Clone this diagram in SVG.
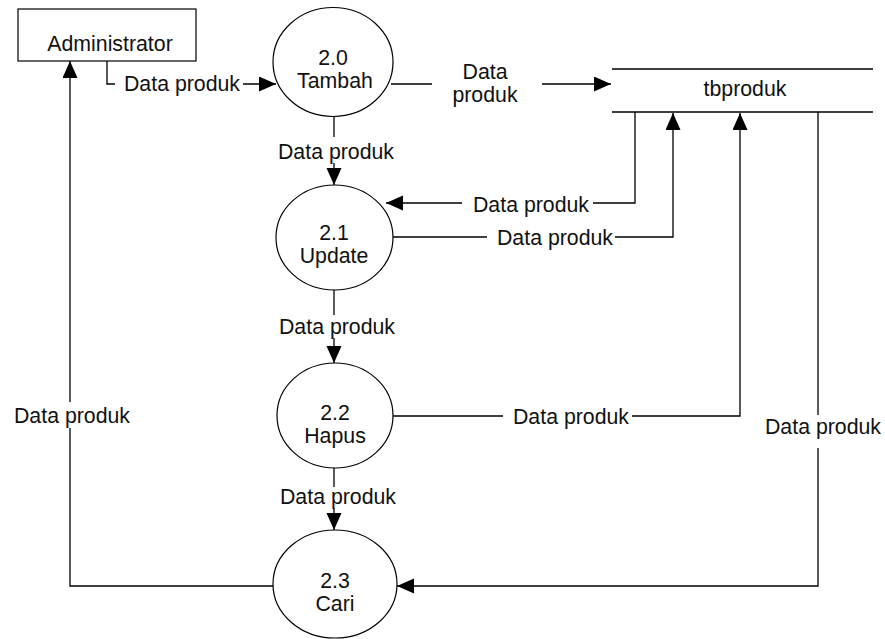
<svg xmlns="http://www.w3.org/2000/svg" width="885" height="639" viewBox="0 0 885 639">
  <defs>
    <marker id="arrow" markerUnits="userSpaceOnUse" markerWidth="18" markerHeight="16" refX="17" refY="7.5" orient="auto">
      <path d="M0,0 L17,7.5 L0,15 z" fill="#000"/>
    </marker>
  </defs>
  <style>
    .shape { fill: #fff; stroke: #000; stroke-width: 1.2; }
    .flow { fill: none; stroke: #000; stroke-width: 1.3; }
    .arr { marker-end: url(#arrow); }
    text { font-family: "Liberation Sans", Arial, sans-serif; font-size: 21.3px; fill: #111; text-anchor: middle; }
  </style>
  <rect width="885" height="639" fill="#fff"/>

  <!-- flows between entities, processes and the data store -->
  <g id="connectors">
    <!-- Administrator -> 2.0 -->
    <path class="flow" d="M107,61 V84 H115"/>
    <path class="flow arr" d="M243,84 H276"/>
    <text x="182" y="91">Data produk</text>

    <!-- 2.0 -> tbproduk -->
    <path class="flow" d="M391,84 H432"/>
    <path class="flow arr" d="M542,84 H611"/>
    <text x="485" y="79">Data</text>
    <text x="485" y="102">produk</text>

    <!-- 2.0 -> 2.1 -->
    <path class="flow" d="M334,117 V137"/>
    <path class="flow arr" d="M334,163 V185"/>
    <text x="336" y="159">Data produk</text>

    <!-- tbproduk -> 2.1 -->
    <path class="flow" d="M635,112 V203 H593"/>
    <path class="flow arr" d="M462,203 H386"/>
    <text x="531" y="212">Data produk</text>

    <!-- 2.1 -> tbproduk -->
    <path class="flow" d="M393,237 H487"/>
    <path class="flow arr" d="M615,237 H673 V113"/>
    <text x="555" y="245">Data produk</text>

    <!-- 2.1 -> 2.2 -->
    <path class="flow" d="M334,290 V315"/>
    <path class="flow arr" d="M334,338 V363"/>
    <text x="337" y="334">Data produk</text>

    <!-- 2.2 -> tbproduk -->
    <path class="flow" d="M393,416 H503"/>
    <path class="flow arr" d="M632,416 H740 V113"/>
    <text x="571" y="424">Data produk</text>

    <!-- 2.2 -> 2.3 -->
    <path class="flow" d="M334,468 V487"/>
    <path class="flow arr" d="M334,508 V530"/>
    <text x="338" y="504">Data produk</text>

    <!-- tbproduk -> 2.3 -->
    <path class="flow" d="M818,112 V415"/>
    <path class="flow arr" d="M818,448 V586 H397"/>
    <text x="823" y="434">Data produk</text>

    <!-- 2.3 -> Administrator -->
    <path class="flow" d="M273,586 H70 V428"/>
    <path class="flow arr" d="M70,402 V61"/>
    <text x="72" y="423">Data produk</text>
  </g>

  <g id="administrator">
    <rect class="shape" x="18" y="9" width="178" height="52"/>
    <text x="110" y="51">Administrator</text>
  </g>

  <g id="p2-0">
    <ellipse class="shape" cx="333" cy="62" rx="60" ry="54.5"/>
    <text x="333" y="65">2.0</text>
    <text x="335" y="88">Tambah</text>
  </g>

  <g id="p2-1">
    <ellipse class="shape" cx="334.5" cy="237.5" rx="58.5" ry="52.5"/>
    <text x="334" y="240">2.1</text>
    <text x="334" y="263">Update</text>
  </g>

  <g id="p2-2">
    <ellipse class="shape" cx="335" cy="415.5" rx="58" ry="52.5"/>
    <text x="335" y="420">2.2</text>
    <text x="335" y="443">Hapus</text>
  </g>

  <g id="p2-3">
    <ellipse class="shape" cx="335" cy="584" rx="62" ry="54"/>
    <text x="335" y="588">2.3</text>
    <text x="335" y="611">Cari</text>
  </g>

  <g id="tbproduk">
    <path class="flow" d="M612,69 H873 M612,112 H873"/>
    <text x="745" y="96">tbproduk</text>
  </g>
</svg>
